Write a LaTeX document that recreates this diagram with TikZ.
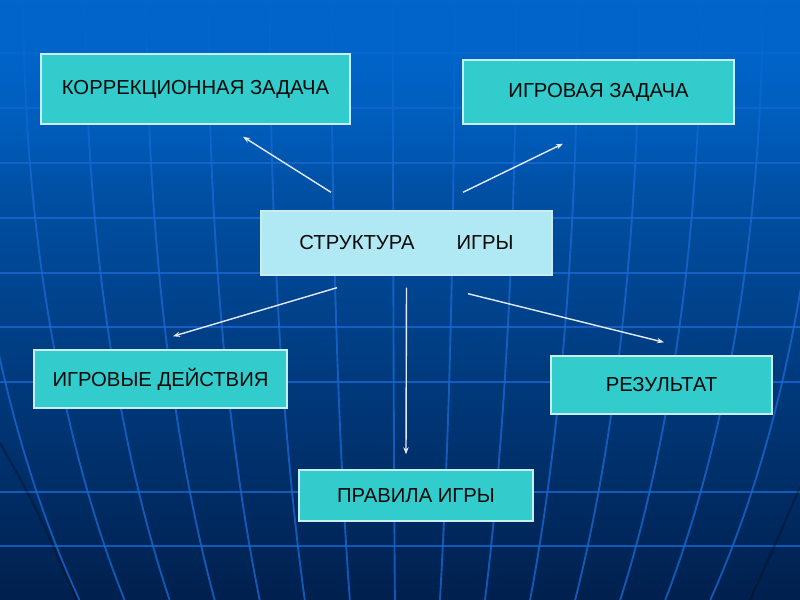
\documentclass[tikz,border=0pt]{standalone}
\usepackage{fontspec}
\setmainfont{Liberation Sans}
\usetikzlibrary{arrows.meta,calc,fadings}
\newlength\px
\setlength\px{0.03cm}
\tikzfading[name=fadetop, top color=transparent!0, bottom color=transparent!100]

\begin{document}
\begin{tikzpicture}[x=0.03cm, y=-0.03cm,
  box/.style={draw=boxline, line width=1.2pt, fill=boxfill, inner sep=0pt,
    text=boxtext, font=\fontsize{17.3}{20}\selectfont},
  pfeil/.style={draw=arrowcol, line width=1.2pt, -{Stealth[length=6pt,width=4.5pt]}},
  gitter/.style={draw=gridcol, line width=1.6pt, opacity=0.75}]

  % --- Farben ---
  \definecolor{bgtop}{HTML}{0066CC}    % Hintergrund oben
  \definecolor{bgmid}{HTML}{00479E}    % Hintergrund Mitte
  \definecolor{bgbot}{HTML}{00204E}    % Hintergrund unten
  \definecolor{gridcol}{HTML}{1C6AD6}  % Gitterlinien
  \definecolor{boxfill}{HTML}{33CCCC}  % Kaesten
  \definecolor{structfill}{HTML}{B0E8F4} % Mittelkasten
  \definecolor{boxline}{HTML}{C8EEF0}  % Rahmen
  \definecolor{boxtext}{HTML}{0A0A0A}
  \definecolor{arrowcol}{HTML}{E4EAF2} % Pfeile

  % --- Hintergrund ---
  \useasboundingbox (0,0) rectangle (800,600);
  \shade[top color=bgtop, middle color=bgmid, bottom color=bgbot] (0,0) rectangle (800,600);

  \begin{scope}
    \clip (0,0) rectangle (800,600);
    % Breitenkreise
    \foreach \y in {53,108,163,218,273,327,382,492,546}
      \draw[gitter] (0,\y) -- (800,\y);
    % Meridiane (Kugel, Aequator oben, Pol unter dem Bild)
    \foreach \k in {-7,...,7}
      \draw[gitter] plot[domain=0:600, samples=40]
        ({400+(61.6*\k-7)*sqrt(1-(\x/880)^2)}, \x);
    % Kugelrand
    \draw[black, opacity=0.25, line width=2pt] (0,443) .. controls (35,505) .. (77,600);
    \draw[black, opacity=0.25, line width=2pt] (800,487) .. controls (775,545) .. (750,600);
    % Gitter oben ausblenden
    \fill[bgtop, path fading=fadetop] (0,0) rectangle (800,190);
  \end{scope}

  % --- Kaesten ---
  \node[box, minimum width=309\px, minimum height=70\px] (korr) at (195.5,89) {КОРРЕКЦИОННАЯ ЗАДАЧА};
  \node[box, minimum width=271\px, minimum height=64\px] (igr) at (598.5,92) {ИГРОВАЯ ЗАДАЧА};
  \node[box, fill=structfill, minimum width=291\px, minimum height=64\px] (struct) at (406.5,243)
    {СТРУКТУРА\hspace{42\px}ИГРЫ};
  \node[box, minimum width=253\px, minimum height=58\px] (dejst) at (160.5,379) {ИГРОВЫЕ ДЕЙСТВИЯ};
  \node[box, minimum width=221\px, minimum height=58\px] (rez) at (661.5,385) {РЕЗУЛЬТАТ};
  \node[box, minimum width=234\px, minimum height=51\px] (prav) at (416,495.5) {ПРАВИЛА ИГРЫ};

  % --- Pfeilenden (frei neben den Kaesten) ---
  \coordinate (korr-tail) at ($(struct.north)+(-75.5,-18)$);
  \coordinate (korr-head) at ($(korr.south)+(47.5,12)$);
  \coordinate (igr-tail)  at ($(struct.north)+(56.5,-18)$);
  \coordinate (igr-head)  at ($(igr.south)+(-35.5,19)$);
  \coordinate (dejst-tail) at ($(struct.south)+(-69.5,12)$);
  \coordinate (dejst-head) at ($(dejst.north)+(12.5,-13)$);
  \coordinate (prav-tail) at ($(struct.south)+(0,12)$);
  \coordinate (prav-head) at ($(prav.north)+(-10,-15)$);
  \coordinate (rez-tail)  at ($(struct.south)+(61.5,18)$);
  \coordinate (rez-head)  at ($(rez.north)+(2.5,-13)$);

  % --- Pfeile ---
  \draw[pfeil] (korr-tail) -- (korr-head);
  \draw[pfeil] (igr-tail) -- (igr-head);
  \draw[pfeil] (dejst-tail) -- (dejst-head);
  \draw[pfeil] (prav-tail) -- (prav-head);
  \draw[pfeil] (rez-tail) -- (rez-head);

\end{tikzpicture}
\end{document}
